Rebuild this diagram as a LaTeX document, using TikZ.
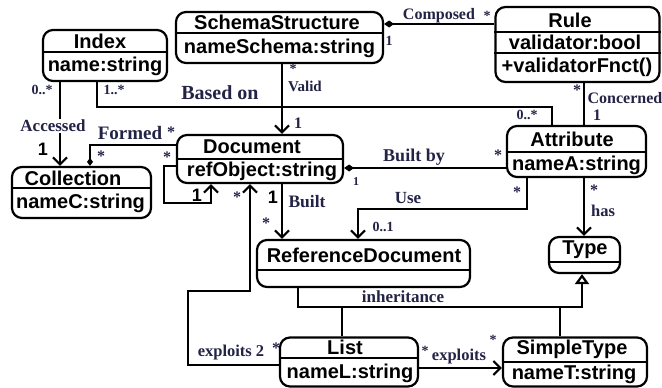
\documentclass[tikz,border=0pt]{standalone}
\usepackage{fontspec}
\setmainfont{Liberation Serif}
\setsansfont{Liberation Sans}
\usetikzlibrary{arrows.meta}

\definecolor{lblcol}{RGB}{35,35,70}

\tikzset{
	cls/.style={draw, line width=2.2pt, rounded corners=10pt, inner sep=0pt},
	sep/.style={line width=2pt},
	hdr/.style={font=\sffamily\bfseries\fontsize{20}{22}\selectfont, inner sep=0pt},
	link/.style={line width=2.2pt},
	nav/.style={link, -{Straight Barb[length=7pt, width=14pt]}},
	agg/.style={link, {Diamond[length=10pt, width=7pt]}-},
	inh/.style={link, -{Triangle[open, length=10pt, width=14pt, fill=white]}},
	lbl/.style={font=\bfseries\fontsize{17}{19}\selectfont, text=lblcol, inner sep=0pt},
	mult/.style={font=\bfseries\fontsize{14}{16}\selectfont, text=lblcol, inner sep=0pt},
	one/.style={font=\sffamily\bfseries\fontsize{18}{20}\selectfont, inner sep=0pt}
}

\begin{document}
\begin{tikzpicture}[x=1pt, y=-1pt]
	\useasboundingbox (0,0) rectangle (662,388);

	% Classes
	\node[cls, minimum width=124, minimum height=51] (index) at (105,55.5) {};
	\node[hdr] (indexT) at (100,41) {Index};
	\node[hdr] (indexA) at (105,66.5) {name:string};
	\draw[sep] (index.west |- 0,52) -- (index.east |- 0,52);

	\node[cls, minimum width=207, minimum height=51] (schema) at (279.5,37.5) {};
	\node[hdr] (schemaT) at (277,22.5) {SchemaStructure};
	\node[hdr] (schemaA) at (279.5,48) {nameSchema:string};
	\draw[sep] (schema.west |- 0,33) -- (schema.east |- 0,33);

	\node[cls, minimum width=164, minimum height=75] (rule) at (577.5,44.5) {};
	\node[hdr] (ruleT) at (570,20) {Rule};
	\node[hdr] (ruleA) at (575,42.5) {validator:bool};
	\node[hdr] (ruleM) at (577,67.5) {+validatorFnct()};
	\draw[sep] (rule.west |- 0,32) -- (rule.east |- 0,32);
	\draw[sep] (rule.west |- 0,53) -- (rule.east |- 0,53);

	\node[cls, minimum width=139, minimum height=51] (attrib) at (576.5,151.5) {};
	\node[hdr] (attribT) at (572,139) {Attribute};
	\node[hdr] (attribA) at (576.5,165) {nameA:string};
	\draw[sep] (attrib.west |- 0,152) -- (attrib.east |- 0,152);

	\node[cls, minimum width=166, minimum height=48] (doc) at (260,159) {};
	\node[hdr] (docT) at (252,147) {Document};
	\node[hdr] (docA) at (262,171) {refObject:string};
	\draw[sep] (doc.west |- 0,159) -- (doc.east |- 0,159);

	\node[cls, minimum width=139, minimum height=51] (coll) at (81.5,192.5) {};
	\node[hdr] (collT) at (73,178) {Collection};
	\node[hdr] (collA) at (80.5,203.5) {nameC:string};
	\draw[sep] (coll.west |- 0,188) -- (coll.east |- 0,188);

	\node[cls, minimum width=213, minimum height=47] (refdoc) at (363.5,263.5) {};
	\node[hdr] (refdocT) at (364,255) {ReferenceDocument};
	\draw[sep] (refdoc.west |- 0,270) -- (refdoc.east |- 0,270);

	\node[cls, minimum width=71, minimum height=36] (type) at (584.5,255) {};
	\node[hdr] (typeT) at (585,250) {Type};
	\draw[sep] (type.west |- 0,262) -- (type.east |- 0,262);

	\node[cls, minimum width=138, minimum height=49] (list) at (349,362) {};
	\node[hdr] (listT) at (345,347.5) {List};
	\node[hdr] (listA) at (350,373) {nameL:string};
	\draw[sep] (list.west |- 0,358) -- (list.east |- 0,358);

	\node[cls, minimum width=144, minimum height=49] (simple) at (575,362) {};
	\node[hdr] (simpleT) at (572,349.5) {SimpleType};
	\node[hdr] (simpleA) at (574,374.5) {nameT:string};
	\draw[sep] (simple.west |- 0,362) -- (simple.east |- 0,362);

	% Bend points
	\coordinate (basedC) at (552,107);
	\coordinate (loopC) at (164,203);
	\coordinate (useC) at (358,209);
	\coordinate (inhC) at (582,307);
	\coordinate (expC) at (188,291);

	% Associations
	\draw[agg] (schema.east |- 0,24) -- (rule.west |- 0,24);
	\node[lbl, font=\bfseries\fontsize{16}{18}\selectfont] (composedL) at (439,16) {Composed};
	\node[mult] (composedS) at (487,16) {*};
	\node[mult] (composedO) at (389,41) {1};

	\draw[nav] (schema.south -| 282,0) -- (doc.north -| 282,0);
	\node[mult] (validS) at (293,69) {*};
	\node[lbl, font=\bfseries\fontsize{15}{17}\selectfont] (validL) at (305,86) {Valid};
	\node[mult, font=\bfseries\fontsize{16}{18}\selectfont] (validO) at (298,123) {1};

	\draw[link] (index.south -| 97,0) |- (basedC) -- (attrib.north -| basedC);
	\node[mult] (basedM) at (114,90) {1..*};
	\node[lbl, font=\bfseries\fontsize{20}{22}\selectfont] (basedL) at (220,93) {Based on};
	\node[mult] (basedN) at (527,115) {0..*};

	\draw[link] (rule.south -| 584,0) -- (attrib.north -| 584,0);
	\node[mult, font=\bfseries\fontsize{16}{18}\selectfont] (concS) at (577,90) {*};
	\node[lbl, font=\bfseries\fontsize{16}{18}\selectfont] (concL) at (625,98) {Concerned};
	\node[mult, font=\bfseries\fontsize{16}{18}\selectfont] (concO) at (597,115) {1};

	\draw[nav] (index.south -| 60,0) -- (coll.north -| 60,0);
	\node[mult] (accM) at (42,90) {0..*};
	\node[lbl, fill=white, inner sep=1pt] (accL) at (53,126) {Accessed};
	\node[one] (accO) at (43,149) {1};

	\draw[agg, {Diamond[length=8pt, width=6pt]}-] (coll.north -| 90,0) |- (doc.west |- 0,145);
	\node[lbl, font=\bfseries\fontsize{19}{21}\selectfont] (formedL) at (130,133) {Formed};
	\node[mult, font=\bfseries\fontsize{16}{18}\selectfont] (formedS) at (171,132) {*};
	\node[mult, font=\bfseries\fontsize{16}{18}\selectfont] (formedC) at (101,156) {*};

	\draw[nav] (doc.west |- 0,166) -| (loopC) -| (doc.south -| 211,0);
	\node[mult, font=\bfseries\fontsize{16}{18}\selectfont] (loopS) at (167,157) {*};
	\node[one] (loopO) at (197,195) {1};

	\draw[nav] (doc.south -| 282,0) -- (refdoc.north -| 282,0);
	\node[one] (builtO) at (273,197) {1};
	\node[lbl, font=\bfseries\fontsize{17.5}{19}\selectfont] (builtL) at (307,202) {Built};
	\node[mult, font=\bfseries\fontsize{16}{18}\selectfont] (builtS) at (266,223) {*};

	\draw[agg] (doc.east |- 0,168) -- (attrib.west |- 0,168);
	\node[lbl, font=\bfseries\fontsize{18}{20}\selectfont] (builtbyL) at (414,157) {Built by};
	\node[mult, font=\bfseries\fontsize{12}{14}\selectfont] (builtbyO) at (356,182) {1};
	\node[mult, font=\bfseries\fontsize{16}{18}\selectfont] (builtbyS) at (498,155) {*};

	\draw[nav] (attrib.south -| 527,0) |- (useC) -- (refdoc.north -| useC);
	\node[mult, font=\bfseries\fontsize{16}{18}\selectfont] (useS) at (517,192) {*};
	\node[lbl] (useL) at (408,198) {Use};
	\node[mult] (useM) at (383,227) {0..1};

	\draw[nav] (attrib.south -| 584,0) -- (type.north -| 584,0);
	\node[mult, font=\bfseries\fontsize{16}{18}\selectfont] (hasS) at (594,190) {*};
	\node[lbl, font=\bfseries\fontsize{16.5}{18}\selectfont] (hasL) at (603,211) {has};

	% Inheritance
	\draw[inh] (refdoc.south -| 298,0) |- (inhC) -- (type.south -| inhC);
	\draw[link] (list.north -| 342,0) |- (inhC);
	\draw[link] (simple.north -| 560,0) |- (inhC);
	\node[lbl] (inhL) at (403,297) {inheritance};

	% Exploits
	\draw[nav] (list.west |- 0,365) -| (expC) -| (doc.south -| 250,0);
	\node[lbl, font=\bfseries\fontsize{16.5}{18}\selectfont] (exp2L) at (231,353) {exploits 2};
	\node[mult, font=\bfseries\fontsize{16}{18}\selectfont] (exp2S) at (276,348) {*};
	\node[mult, font=\bfseries\fontsize{16}{18}\selectfont] (expDS) at (237,197) {*};

	\draw[nav] (list.east |- 0,368) -- (simple.west |- 0,368);
	\node[mult] (expS) at (425,351) {*};
	\node[lbl, font=\bfseries\fontsize{16.5}{18}\selectfont] (expL) at (459,357) {exploits};
	\node[mult] (expT) at (493,340) {*};
\end{tikzpicture}
\end{document}
